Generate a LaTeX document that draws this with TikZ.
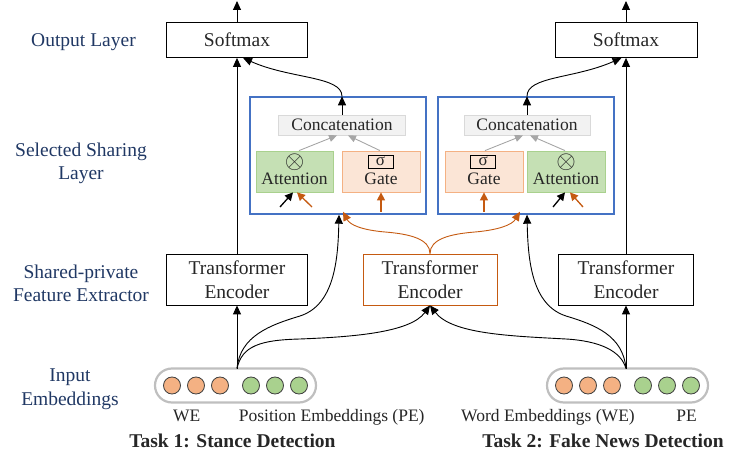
\documentclass[tikz,border=0pt]{standalone}
\usepackage{fontspec}
\usepackage{graphicx}
\setmainfont{Liberation Serif}
\usetikzlibrary{arrows.meta}
\definecolor{navy}{HTML}{203864}
\definecolor{bluebox}{HTML}{4472C4}
\definecolor{orline}{HTML}{C55A11}
\definecolor{grfill}{HTML}{C5E0B4}
\definecolor{grline}{HTML}{A9D18E}
\definecolor{orfill}{HTML}{FBE5D6}
\definecolor{orbord}{HTML}{F4B183}
\definecolor{ccfill}{HTML}{F2F2F2}
\definecolor{ccline}{HTML}{D9D9D9}
\definecolor{grayarr}{HTML}{A6A6A6}
\definecolor{pillgray}{HTML}{BFBFBF}
\definecolor{dotline}{HTML}{404040}
\definecolor{dotor}{HTML}{F4B183}
\definecolor{dotgr}{HTML}{A9D18E}
\definecolor{txt}{HTML}{262626}
\newcommand{\bigf}{\fontsize{19.5}{23.5}\selectfont}
\newcommand{\smf}{\fontsize{17.5}{20}\selectfont}
\newcommand{\myotimes}{\scalebox{1.45}{$\otimes$}}
\begin{document}
\begin{tikzpicture}[x=1pt,y=1pt,
  plainbox/.style={draw=black, line width=0.8pt, inner sep=0pt, font=\bigf, text=txt, align=center},
  bluefr/.style={draw=bluebox, line width=1.4pt, minimum width=176pt, minimum height=117pt, inner sep=0pt},
  concat/.style={draw=ccline, fill=ccfill, line width=0.8pt, minimum width=127pt, minimum height=20pt, inner sep=0pt, font=\smf, text=txt},
  attbox/.style={draw=grline, fill=grfill, line width=0.8pt, minimum width=77pt, minimum height=41pt, inner sep=0pt},
  gatebox/.style={draw=orbord, fill=orfill, line width=0.8pt, minimum width=78pt, minimum height=41pt, inner sep=0pt},
  intxt/.style={font=\smf, text=txt, inner sep=0pt, anchor=base},
  otimes/.style={font=\smf, text=txt, inner sep=0pt},
  sigbox/.style={draw=black, line width=0.9pt, minimum width=25pt, minimum height=13pt, inner sep=0pt, font=\fontsize{17}{17}\selectfont, text=txt},
  lbl/.style={font=\bigf, text=navy, align=center, anchor=base, inner sep=0pt},
  sublbl/.style={font=\smf, text=txt, anchor=base, inner sep=0pt},
  tasklbl/.style={font=\bigf\bfseries, text=txt, anchor=base, inner sep=0pt},
  pill/.style={draw=pillgray, line width=2.2pt, rounded corners=17pt, minimum width=161pt, minimum height=34pt, inner sep=0pt},
  dot/.style={circle, draw=dotline, line width=0.8pt, minimum size=17pt, inner sep=0pt},
  arr/.style={-{Triangle[length=9pt,width=8pt]}, line width=0.9pt, draw=black},
  oarr/.style={-{Triangle[length=9pt,width=8pt]}, line width=0.9pt, draw=orline},
  sarr/.style={-{Triangle[length=8pt,width=8pt]}, line width=1.3pt},
  garr/.style={-{Triangle[length=8pt,width=7pt]}, line width=0.9pt, draw=grayarr}
]
\useasboundingbox (0,0) rectangle (731,461);

% left labels (base = baseline of the last line)
\node[lbl] (l1) at (83.5,414.3) {Output Layer};
\node[lbl] (l2) at (81,281) {Selected Sharing\\Layer};
\node[lbl] (l3) at (81,159.3) {Shared-private\\Feature Extractor};
\node[lbl] (l4) at (70,56) {Input\\Embeddings};

% softmax
\node[plainbox, minimum width=141pt, minimum height=35pt] (sm1) at (237,421) {Softmax};
\node[plainbox, minimum width=142pt, minimum height=35pt] (sm2) at (626,421) {Softmax};
\coordinate (top1) at (237,460);
\coordinate (top2) at (626,460);

% selected sharing frames
\node[bluefr] (bl1) at (338,305.5) {};
\node[bluefr] (bl2) at (526,305.5) {};
\node[concat] (cc1) at (342,336) {Concatenation};
\node[concat, minimum width=126pt] (cc2) at (527,336) {Concatenation};

\node[attbox] (att1) at (294.5,289.5) {};
\node[gatebox] (gt1) at (381,289.5) {};
\node[gatebox] (gt2) at (484,289.5) {};
\node[attbox, minimum width=78pt] (att2) at (566,289.5) {};

\node[otimes] (ot1) at (294.5,298.5) {\myotimes};
\node[intxt] (at1) at (294.5,276) {Attention};
\node[sigbox] (sg1) at (380.5,299.5) {σ};
\node[intxt] (gl1) at (381,276) {Gate};
\node[sigbox] (sg2) at (483.3,299.5) {σ};
\node[intxt] (gl2) at (484,276) {Gate};
\node[otimes] (ot2) at (566,298.5) {\myotimes};
\node[intxt] (at2) at (566,276) {Attention};

% transformer encoders
\node[plainbox, minimum width=141pt, minimum height=51pt] (te1) at (237,181.5) {Transformer\\Encoder};
\node[plainbox, draw=orline, minimum width=134pt, minimum height=51pt] (te2) at (430,181.5) {Transformer\\Encoder};
\node[plainbox, minimum width=135pt, minimum height=51pt] (te3) at (626,181.5) {Transformer\\Encoder};

% embeddings
\node[pill] (p1) at (235.5,75.5) {};
\node[pill] (p2) at (627.5,75.5) {};
\node[dot, fill=dotor] (d11) at (172,75.5) {};
\node[dot, fill=dotor] (d12) at (196,75.5) {};
\node[dot, fill=dotor] (d13) at (220,75.5) {};
\node[dot, fill=dotgr] (d14) at (251,75.5) {};
\node[dot, fill=dotgr] (d15) at (275,75.5) {};
\node[dot, fill=dotgr] (d16) at (299,75.5) {};
\node[dot, fill=dotor] (d21) at (564,75.5) {};
\node[dot, fill=dotor] (d22) at (588,75.5) {};
\node[dot, fill=dotor] (d23) at (612,75.5) {};
\node[dot, fill=dotgr] (d24) at (643,75.5) {};
\node[dot, fill=dotgr] (d25) at (667,75.5) {};
\node[dot, fill=dotgr] (d26) at (691,75.5) {};
\coordinate (e1) at (237,92.5);
\coordinate (e2) at (626,92.5);

\node[sublbl] (we1) at (186.7,39.5) {WE};
\node[sublbl] (pe1) at (331.7,39.5) {Position Embeddings (PE)};
\node[sublbl] (we2) at (548,39.5) {Word Embeddings (WE)};
\node[sublbl] (pe2) at (686.7,39.5) {PE};
\node[tasklbl] (t1) at (232.5,14) {Task 1: Stance Detection};
\node[tasklbl] (t2) at (603,14) {Task 2: Fake News Detection};

% vertical connectors
\draw[arr] (sm1.north) -- (top1);
\draw[arr] (sm2.north) -- (top2);
\draw[arr] (te1.north) -- (te1.north |- sm1.south);
\draw[arr] (te3.north) -- (te3.north |- sm2.south);
\draw[arr] (e1) -- (te1.south);
\draw[arr] (e2) -- (te3.south);

% concatenation to softmax
\draw[arr] (cc1.north) -- (cc1.north |- bl1.north);
\draw[arr] (cc1.north |- bl1.north) .. controls (342,385) and (290,382) .. ([xshift=6pt]sm1.south);
\draw[arr] (cc2.north) -- (cc2.north |- bl2.north);
\draw[arr] (cc2.north |- bl2.north) .. controls (527,385) and (574,382) .. ([xshift=-4.5pt]sm2.south);

% gray arrows inside
\draw[garr] ([xshift=4.5pt]att1.north) -- ([xshift=-5pt]cc1.south);
\draw[garr] ([xshift=-1pt]gt1.north) -- ([xshift=6pt]cc1.south);
\draw[garr] ([xshift=1pt]gt2.north) -- ([xshift=-4pt]cc2.south);
\draw[garr] ([xshift=-1pt]att2.north) -- ([xshift=3pt]cc2.south);

% small arrows below attention / gate
\coordinate (k1) at (280,254);
\coordinate (o1) at (312,254);
\coordinate (g1) at (381,249);
\coordinate (g2) at (484,249);
\coordinate (k2) at (553,254);
\coordinate (o2) at (583,254);
\draw[sarr, draw=black] (k1) -- ([xshift=-1.5pt]att1.south);
\draw[sarr, draw=orline] (o1) -- ([xshift=2.5pt]att1.south);
\draw[sarr, draw=orline] (g1) -- (gt1.south);
\draw[sarr, draw=orline] (g2) -- (gt2.south);
\draw[sarr, draw=black] (k2) -- ([xshift=-1pt]att2.south);
\draw[sarr, draw=orline] (o2) -- ([xshift=4pt]att2.south);

% embeddings to selected sharing and shared encoder
\draw[arr] (e1) .. controls (240,125) and (270,136) .. (300,145)
  .. controls (334,156) and (338,200) .. ([xshift=1pt]bl1.south);
\draw[arr] (e1) .. controls (242,115) and (260,121) .. (300,122)
  .. controls (350,124) and (410,128) .. (te2.south);
\draw[arr] (e2) .. controls (623,125) and (596,136) .. (566,145)
  .. controls (532,156) and (528,200) .. ([xshift=1pt]bl2.south);
\draw[arr] (e2) .. controls (621,110) and (600,120) .. (566,122)
  .. controls (510,125) and (452,127) .. (te2.south);

% shared encoder to sharing layers
\draw[oarr] (te2.north) .. controls (430,222) and (410,227) .. (385,229)
  .. controls (362,231) and (350,236) .. ([xshift=5pt,yshift=3pt]bl1.south);
\draw[oarr] (te2.north) .. controls (430,222) and (450,227) .. (475,229)
  .. controls (498,231) and (512,236) .. ([xshift=-6pt,yshift=3pt]bl2.south);
\end{tikzpicture}
\end{document}
